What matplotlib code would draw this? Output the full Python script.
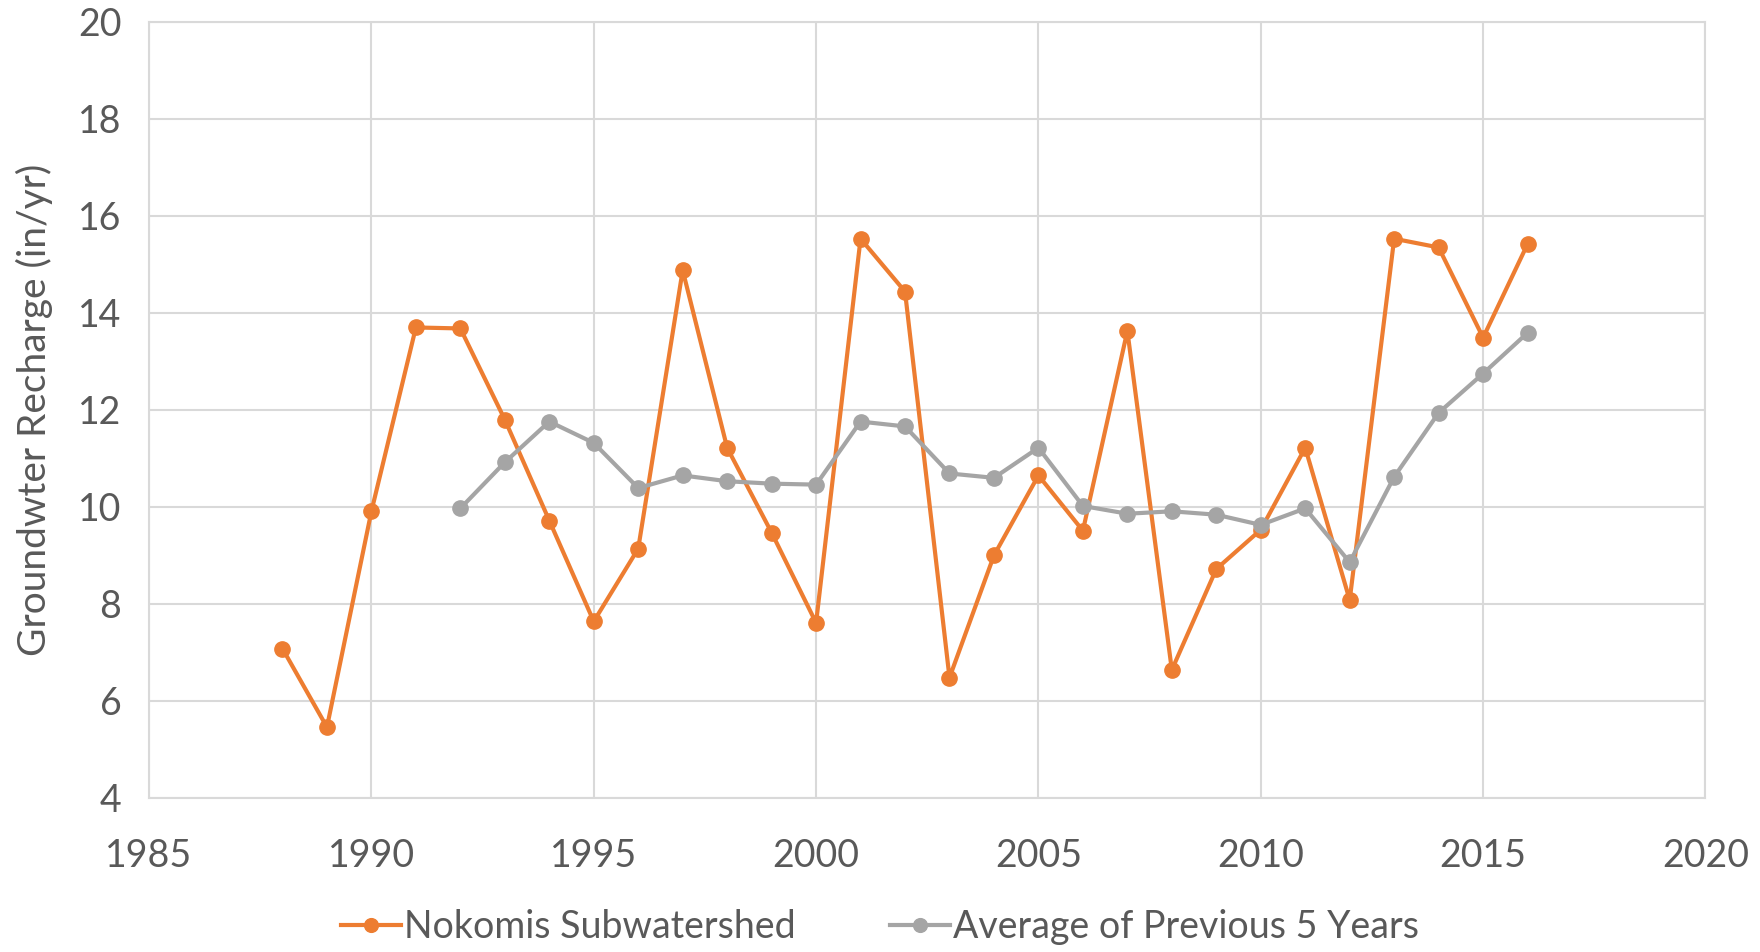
import matplotlib.pyplot as plt

years = list(range(1988, 2017))
nokomis = [7.08, 5.46, 9.91, 13.70, 13.68, 11.80, 9.72, 7.64, 9.14, 14.88,
           11.22, 9.47, 7.61, 15.53, 14.44, 6.48, 9.00, 10.65, 9.51, 13.63,
           6.64, 8.72, 9.53, 11.22, 8.08, 15.53, 15.35, 13.49, 15.42]

avg_years = list(range(1992, 2017))
avg5 = [9.97, 10.92, 11.76, 11.32, 10.39, 10.65, 10.53, 10.48, 10.46, 11.76,
        11.66, 10.69, 10.60, 11.22, 10.02, 9.86, 9.91, 9.84, 9.63, 9.97,
        8.86, 10.62, 11.94, 12.75, 13.59]

orange = '#ED7D31'
gray = '#A5A5A5'
text_c = '#595959'
grid_c = '#D9D9D9'

plt.rcParams['font.family'] = ['Lato', 'DejaVu Sans']

fig = plt.figure(figsize=(17.6, 9.52), dpi=100)
ax = fig.add_axes([0.0847, 0.1618, 0.8843, 0.8152])

ax.plot(years, nokomis, color=orange, lw=3, marker='o', markersize=11,
        label='Nokomis Subwatershed', zorder=3)
ax.plot(avg_years, avg5, color=gray, lw=3, marker='o', markersize=11,
        label='Average of Previous 5 Years', zorder=4)

ax.set_xlim(1985, 2020)
ax.set_ylim(4, 20)
ax.set_xticks(range(1985, 2021, 5))
ax.set_yticks(range(4, 21, 2))
ax.grid(True, color=grid_c, lw=1.5)
ax.set_axisbelow(True)
for s in ax.spines.values():
    s.set_color(grid_c)
    s.set_linewidth(1.5)
ax.tick_params(length=0, labelsize=27, colors=text_c)
ax.tick_params(axis='x', pad=29)
ax.tick_params(axis='y', pad=20)
ax.set_ylabel('Groundwter Recharge (in/yr)', fontsize=28, color=text_c)
ax.yaxis.set_label_coords(-0.062, 0.5)

fig.legend(loc='center', bbox_to_anchor=(0.5, 0.026), ncol=2, frameon=False,
           fontsize=27, labelcolor=text_c, handlelength=1.6, handletextpad=0.1,
           columnspacing=2.5, markerscale=0.9)

fig.savefig('out.png', dpi=100)
